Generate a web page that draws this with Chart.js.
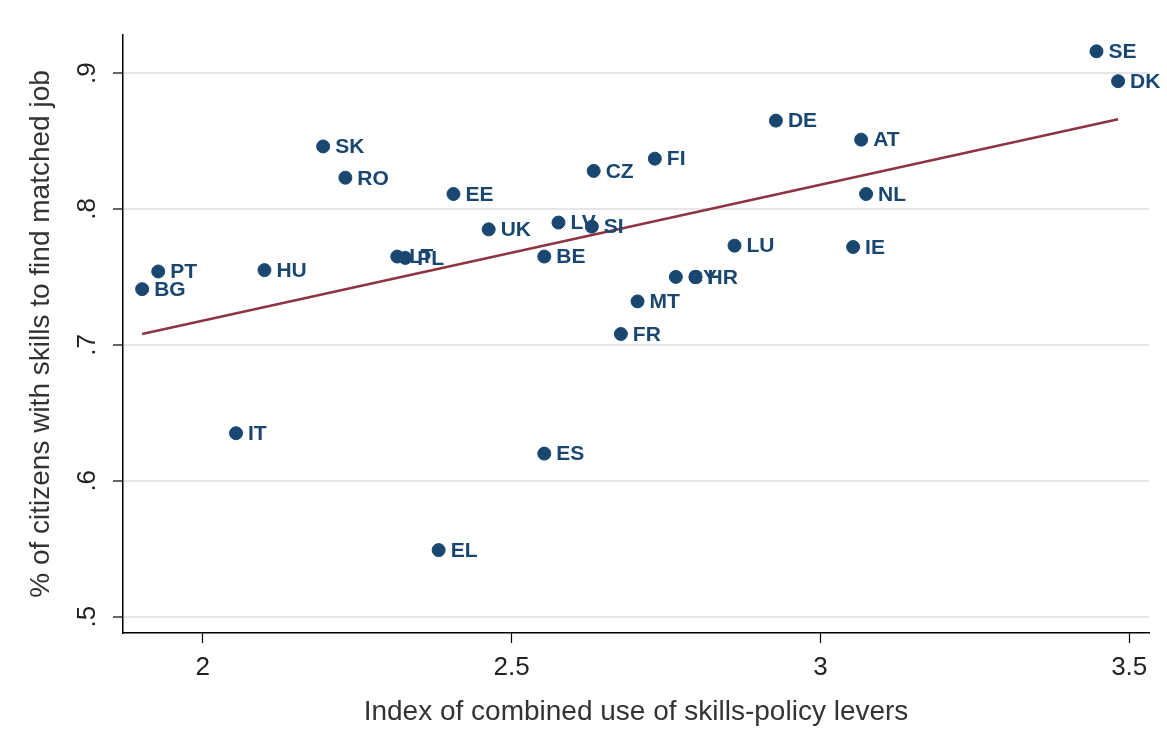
<!DOCTYPE html>
<html>
<head>
<meta charset="UTF-8">
<title>Skills-policy levers vs matched job</title>
<script src="https://cdn.jsdelivr.net/npm/chart.js@4.4.1/dist/chart.umd.min.js"></script>
<style>
  html, body { margin: 0; padding: 0; background: #fff; }
  #wrap { width: 1167px; height: 735px; }
</style>
</head>
<body>
<div id="wrap"><canvas id="myChart"></canvas></div>

<script>
// country codes, index of skills-policy levers (x), share with matched skills (y)
const countries = ['SE', 'DK', 'DE', 'AT', 'NL', 'IE', 'LU', 'FI', 'CZ', 'SK', 'RO', 'EE', 'UK', 'LV', 'SI',
                   'BE', 'LT', 'PL', 'HU', 'PT', 'BG', 'CY', 'HR', 'MT', 'FR', 'IT', 'ES', 'EL'];
const leverIndex = [3.447, 3.482, 2.928, 3.066, 3.074, 3.053, 2.861, 2.732, 2.633, 2.195, 2.231, 2.406, 2.463, 2.576, 2.630,
                    2.553, 2.315, 2.328, 2.100, 1.928, 1.902, 2.766, 2.798, 2.704, 2.677, 2.054, 2.553, 2.382];
const matchedShare = [0.916, 0.894, 0.865, 0.851, 0.811, 0.772, 0.773, 0.837, 0.828, 0.846, 0.823, 0.811, 0.785, 0.790, 0.787,
                      0.765, 0.765, 0.764, 0.755, 0.754, 0.741, 0.750, 0.750, 0.732, 0.708, 0.635, 0.620, 0.549];

// linear fit drawn between the extreme x values
const fitX = [1.902, 3.482];
const fitY = [0.708, 0.866];

const xTicks = [2, 2.5, 3, 3.5];
const yTicks = [0.5, 0.6, 0.7, 0.8, 0.9];

const navy = '#1a476f';
const maroon = '#8e3340';
const fontFamily = '"Liberation Sans", Arial, sans-serif';

// writes the country code next to each dot
const pointLabels = {
  id: 'pointLabels',
  afterDatasetsDraw(chart) {
    const ctx = chart.ctx;
    const meta = chart.getDatasetMeta(1);
    ctx.save();
    ctx.font = 'bold 21px ' + fontFamily;
    ctx.fillStyle = navy;
    ctx.textAlign = 'left';
    ctx.textBaseline = 'middle';
    meta.data.forEach(function(pt, i) {
      ctx.fillText(countries[i], pt.x + 12, pt.y + 1);
    });
    ctx.restore();
  }
};

new Chart('myChart', {
  type: 'scatter',
  data: {
    datasets: [{
      type: 'line',
      data: fitX.map(function(x, i) { return {x: x, y: fitY[i]}; }),
      borderColor: maroon,
      borderWidth: 2.5,
      pointRadius: 0,
      fill: false
    }, {
      data: leverIndex.map(function(x, i) { return {x: x, y: matchedShare[i]}; }),
      backgroundColor: navy,
      borderColor: navy,
      pointRadius: 6.5,
      pointHoverRadius: 6.5
    }]
  },
  options: {
    responsive: true,
    maintainAspectRatio: false,
    animation: false,
    layout: { padding: { left: 0, top: 35, right: 18, bottom: 0 } },
    plugins: {
      legend: { display: false },
      tooltip: { enabled: false }
    },
    scales: {
      x: {
        type: 'linear',
        min: 1.871,
        max: 3.532,
        afterBuildTicks: function(s) { s.ticks = xTicks.map(function(v) { return {value: v}; }); },
        afterFit: function(s) { s.height = 102; },
        border: { color: '#000', width: 1.5 },
        grid: { drawOnChartArea: false, color: '#000', tickColor: '#000', tickLength: 10, tickWidth: 1.2 },
        ticks: {
          color: '#222',
          padding: 9,
          maxRotation: 0,
          font: { family: fontFamily, size: 26 },
          callback: function(v) { return String(v); }
        },
        title: {
          display: true,
          text: 'Index of combined use of skills-policy levers',
          color: '#333',
          font: { family: fontFamily, size: 28 },
          padding: { top: 0, bottom: 6 }
        }
      },
      y: {
        type: 'linear',
        min: 0.488,
        max: 0.928,
        afterBuildTicks: function(s) { s.ticks = yTicks.map(function(v) { return {value: v}; }); },
        afterFit: function(s) { s.width = 123; },
        border: { color: '#000', width: 1.5 },
        grid: { color: '#e6e6e6', lineWidth: 2, tickColor: '#000', tickLength: 10, tickWidth: 1.2 },
        ticks: {
          color: '#222',
          padding: 14,
          minRotation: 90,
          maxRotation: 90,
          crossAlign: 'center',
          font: { family: fontFamily, size: 26 },
          callback: function(v) { return v.toFixed(1).replace(/^0/, ''); }
        },
        title: {
          display: true,
          text: '% of citizens with skills to find matched job',
          color: '#333',
          font: { family: fontFamily, size: 28 },
          padding: { top: 24, bottom: 0 }
        }
      }
    }
  },
  plugins: [pointLabels]
});
</script>
</body>
</html>
